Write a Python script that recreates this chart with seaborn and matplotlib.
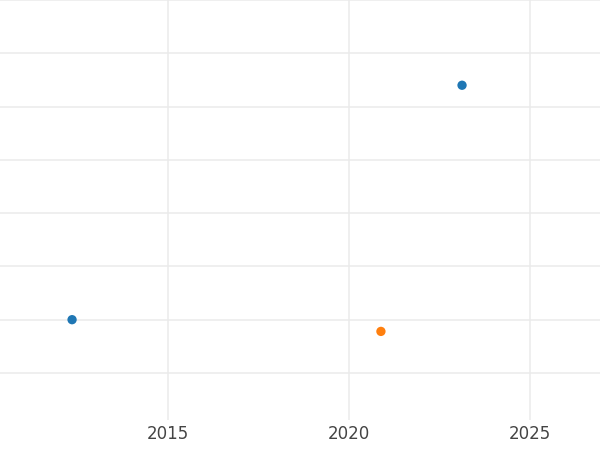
import matplotlib
matplotlib.use("Agg")
import matplotlib.pyplot as plt
import seaborn as sns
import pandas as pd
from matplotlib.ticker import MultipleLocator

years = [2012.35, 2023.12, 2020.88]
values = [0.50, 2.70, 0.39]
groups = ["A", "A", "B"]
df = pd.DataFrame({"year": years, "value": values, "group": groups})

sns.set_style("whitegrid")
fig = plt.figure(figsize=(6, 4.5), dpi=100)
ax = fig.add_axes([0, 0.067, 1, 0.933])
sns.scatterplot(data=df, x="year", y="value", hue="group",
                palette=["#1f77b4", "#ff7f0e"], s=45, edgecolor="none",
                legend=False, ax=ax)
ax.set_xlim(2010.36, 2026.93)
ax.set_ylim(-0.44, 3.5)
ax.xaxis.set_major_locator(MultipleLocator(5))
ax.yaxis.set_major_locator(MultipleLocator(0.5))
ax.grid(True, which="major", color="#ebebeb", linewidth=1.1)
ax.set_yticklabels([])
ax.tick_params(axis="both", length=0, which="both", labelsize=12, colors="#444444")
ax.set_xlabel("")
ax.set_ylabel("")
for s in ax.spines.values():
    s.set_visible(False)
fig.savefig("out.png")
